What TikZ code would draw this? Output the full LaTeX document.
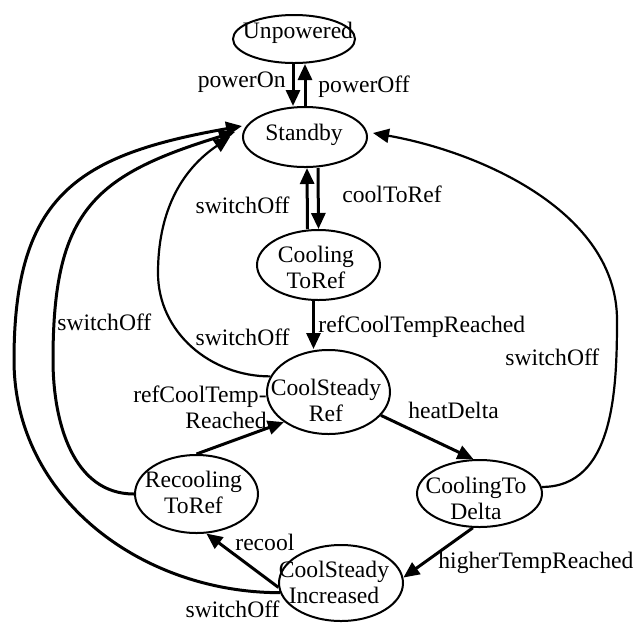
\documentclass[tikz,border=0pt]{standalone}
\usepackage{fontspec}
\setmainfont{Liberation Serif}
\usetikzlibrary{arrows.meta,calc,shapes.geometric}
\begin{document}
\begin{tikzpicture}[x=0.5pt,y=-0.5pt,
  st/.style={draw,ellipse,line width=1pt,inner sep=0pt},
  txt/.style={inner sep=0pt,font=\fontsize{11.8}{13.3}\selectfont,anchor=base},
  lbl/.style={inner sep=0pt,font=\fontsize{11.8}{13.3}\selectfont},
  arr/.style={line width=1.5pt,-{Triangle[length=8pt,width=7pt]}},
  thinarr/.style={line width=1.1pt,-{Triangle[length=8pt,width=7pt]}},
]
\useasboundingbox (0,0) rectangle (638,623);

% states
\node[st,minimum width=61pt,minimum height=24pt] (unp) at (294,39) {};
\node[txt] (unpT) at (298,38) {Unpowered};
\node[st,minimum width=62pt,minimum height=30pt] (sb) at (305,137) {};
\node[txt] (sbT) at (304,140) {Standby};
\node[st,minimum width=61.5pt,minimum height=35pt] (ctr) at (318.5,265) {};
\node[txt] (ctrT) at (316,262) {\begin{tabular}[t]{@{}c@{}}Cooling\\ToRef\end{tabular}};
\node[st,minimum width=61.5pt,minimum height=42pt] (csr) at (328.5,392) {};
\node[txt] (csrT) at (326,395) {\begin{tabular}[t]{@{}c@{}}CoolSteady\\Ref\end{tabular}};
\node[st,minimum width=62.5pt,minimum height=33.5pt] (ctd) at (479.5,493.5) {};
\node[txt] (ctdT) at (476,493) {\begin{tabular}[t]{@{}c@{}}CoolingTo\\Delta\end{tabular}};
\node[st,minimum width=61.5pt,minimum height=39pt] (rtr) at (196.5,494) {};
\node[txt] (rtrT) at (193.5,487) {\begin{tabular}[t]{@{}c@{}}Recooling\\ToRef\end{tabular}};
\node[st,minimum width=62pt,minimum height=38pt] (csi) at (341,583) {};
\node[txt] (csiT) at (334,577) {\begin{tabular}[t]{@{}c@{}}CoolSteady\\Increased\end{tabular}};

% straight transitions
\draw[arr] ($(unp.south)+(-1,0)$) -- ($(sb.north)+(-12,0)$);
\draw[arr] (sb.north) -- ($(unp.south)+(11,0)$);
\draw[arr] ($(ctr.north)+(-11,0)$) -- ($(sb.south)+(2,0)$);
\draw[arr] ($(sb.south)+(13,0)$) -- (ctr.north);
\draw[arr] ($(ctr.south)+(-5,0)$) -- ($(csr.north)+(-15,0)$);
\draw[arr] (rtr.north) -- (csr.214);
\draw[arr] (csr.-24) -- (ctd.100);
\draw[arr] (ctd.-101) -- (csi.5);
\draw[arr] (csi.184) -- (rtr.-76);

% switchOff curves to Standby
\draw[arr] (csi.189) to[out=180,in=270] (14,360) to[out=90,in=190,looseness=1.3] ($(sb.west)+(0,-11)$);
\draw[arr] (rtr.west) to[out=180,in=270] (53,360) to[out=90,in=197,looseness=1.3] ($(sb.west)+(-7,-5)$);
\draw[thinarr] (csr.165) to[out=180,in=270] (158,273) to[out=90,in=214] ($(sb.west)+(-12,0)$);
\draw[thinarr] (ctd.6) to[out=0,in=270] (617,320) to[out=90,in=-10,looseness=0.9] ($(sb.east)+(5,-4)$);

% labels
\node[lbl,anchor=base east] (l1) at (286,87) {powerOn};
\node[lbl,anchor=base west] (l2) at (318,92) {powerOff};
\node[lbl,anchor=base east] (l3) at (290,213) {switchOff};
\node[lbl,anchor=base west] (l4) at (342,202) {coolToRef};
\node[lbl,anchor=base west] (l5) at (318,332) {refCoolTempReached};
\node[lbl,anchor=base east] (l6) at (290,345) {switchOff};
\node[lbl,anchor=base west] (l7) at (57,330) {switchOff};
\node[lbl,anchor=base east] (l8) at (280,617) {switchOff};
\node[lbl,anchor=base west] (l9) at (505,365) {switchOff};
\node[lbl,anchor=base east] (l10) at (267,402) {\begin{tabular}[t]{@{}r@{}}refCoolTemp-\\Reached\end{tabular}};
\node[lbl,anchor=base west] (l11) at (408,418) {heatDelta};
\node[lbl,anchor=base west] (l12) at (438,568) {higherTempReached};
\node[lbl,anchor=base west] (l13) at (235,550) {recool};
\end{tikzpicture}
\end{document}
